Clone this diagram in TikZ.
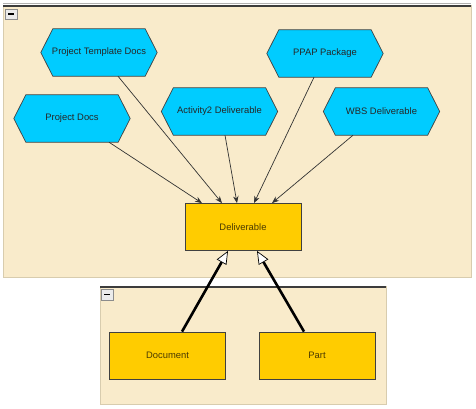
\documentclass[tikz,border=0pt]{standalone}
\usepackage{fontspec}
\setmainfont{Liberation Sans}
\usetikzlibrary{arrows.meta,backgrounds}
\definecolor{beige}{HTML}{F9EBCB}
\definecolor{edgetan}{HTML}{D8CCAE}
\definecolor{hexfill}{HTML}{00CCFF}
\definecolor{boxfill}{HTML}{FFCC00}
\definecolor{framedark}{HTML}{3C3C3C}
\definecolor{boxtext}{HTML}{4A3A00}
\tikzset{
  hexlabel/.style={inner sep=0pt, minimum width=116pt, minimum height=47pt, text=black!85, font=\fontsize{9.4}{11}\selectfont},
  hexshape/.style={fill=hexfill, draw=black!75, line width=0.7pt},
  classbox/.style={rectangle, fill=boxfill, draw=black!75, line width=0.8pt, minimum width=116pt, minimum height=47pt, inner sep=0pt, text=boxtext, font=\fontsize{9.4}{11}\selectfont},
  assoc/.style={draw=black!80, line width=0.7pt, -{Stealth[length=7pt,width=5.5pt]}},
  inherit/.style={draw=black, line width=2.6pt, -{Triangle[fill=white, line width=0.7pt, length=13pt, width=11pt]}},
  container/.style={fill=beige, draw=edgetan, line width=1pt},
  collapse/.style={fill=black!8, draw=black!45, line width=0.6pt},
}
\newcommand{\hexof}[1]{%
  \path[hexshape] ([xshift=12pt]#1.north west) -- ([xshift=-12pt]#1.north east) -- (#1.east)
    -- ([xshift=-12pt]#1.south east) -- ([xshift=12pt]#1.south west) -- (#1.west) -- cycle;}
\begin{document}
\begin{tikzpicture}[x=1pt,y=-1pt]
\useasboundingbox (0,0) rectangle (476,408);
% containers
\begin{scope}[on background layer]
\path[container] (3,5) rectangle (471,277);
\draw[black!30, line width=1pt] (3,3.5) -- (471,3.5);
\draw[framedark, line width=2pt] (3,5.5) -- (471,5.5);
\path[collapse] (5,9) rectangle (17,19);
\draw[black, line width=1.2pt] (8,14) -- (14,14);
\path[container] (100,286) rectangle (386,404);
\draw[framedark, line width=2pt] (100,286.5) -- (386,286.5);
\path[collapse] (101,289) rectangle (113,300);
\draw[black, line width=1.2pt] (104,294.5) -- (110,294.5);
\end{scope}
% nodes
\node[hexlabel] (ptd) at (99,52.5) {Project Template Docs};
\node[hexlabel] (pd) at (72,118.5) {Project Docs};
\node[hexlabel] (act) at (219.5,111.5) {Activity2 Deliverable};
\node[hexlabel] (ppap) at (325,53.5) {PPAP Package};
\node[hexlabel] (wbs) at (381.5,111.5) {WBS Deliverable};
\begin{scope}[on background layer]
\hexof{ptd}\hexof{pd}\hexof{act}\hexof{ppap}\hexof{wbs}
\end{scope}
\node[classbox] (del) at (243,227) {Deliverable};
\node[classbox] (doc) at (167.5,355.5) {Document};
\node[classbox] (part) at (317,355.5) {Part};
% connectors
\draw[assoc] ([xshift=37pt]pd.south) -- ([xshift=-41pt]del.north);
\draw[assoc] ([xshift=19pt]ptd.south) -- ([xshift=-21pt]del.north);
\draw[assoc] ([xshift=5.5pt]act.south) -- ([xshift=-6pt]del.north);
\draw[assoc] ([xshift=-11pt]ppap.south) -- ([xshift=11pt]del.north);
\draw[assoc] ([xshift=-28.5pt]wbs.south) -- ([xshift=29pt]del.north);
\draw[inherit] ([xshift=14.5pt]doc.north) -- ([xshift=-15pt]del.south);
\draw[inherit] ([xshift=-13pt]part.north) -- ([xshift=14pt]del.south);
\end{tikzpicture}
\end{document}
